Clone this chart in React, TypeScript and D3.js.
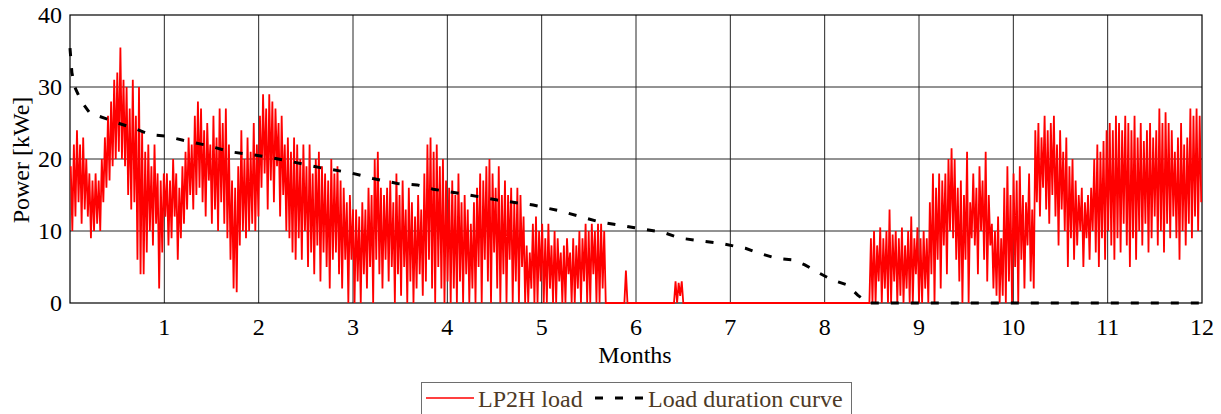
import { useEffect, useRef } from 'react';
import * as d3 from 'd3';

const monthTicks = [1, 2, 3, 4, 5, 6, 7, 8, 9, 10, 11, 12];
const powerTicks = [0, 10, 20, 30, 40];
const daysInYear = 365;

// daily maximum of the LP2H load [kWe], day 0..364
const dailyPeak = [
  // month 1
  19, 22, 24, 22, 23, 20, 18, 17, 18, 17, 20, 23, 26, 28, 31, 32, 35.5, 31, 30, 27, 31, 26, 30, 24, 21, 22, 19, 22, 18, 17, 18,
  // month 2
  18, 17, 20, 18, 16, 19, 21, 23, 22, 26, 28, 27, 24, 25, 22, 26, 23, 27, 25, 27, 22, 17, 16, 19, 24, 20, 23, 21, 25, 22,
  // month 3
  26, 29, 27, 29, 28, 27, 25, 26, 22, 23, 21, 23, 22, 20, 22, 19, 22, 18, 20, 21, 19, 18, 17, 20, 18, 19, 17, 16, 14, 15, 13,
  // month 4
  13, 12, 14, 13, 16, 15, 20, 21, 16, 15, 16, 17, 14, 18, 15, 17, 13, 16, 14, 12, 15, 13, 18, 22, 23, 21, 22, 19, 20, 17,
  // month 5
  16, 17, 15, 18, 14, 15, 13, 11, 14, 16, 18, 17, 19, 20, 18, 16, 19, 15, 17, 15, 16, 14, 16, 15, 12, 8, 7, 11, 12, 10, 11,
  // month 6
  9, 11, 8, 10, 9, 7, 8, 9, 7, 9, 8, 10, 9, 11, 10, 11, 10, 11, 11, 10,
  0, 0, 0, 0, 0, 0, 4.5, 0, 0, 0,
  // month 7
  0, 0, 0, 0, 0, 0, 0, 0, 0, 0, 0, 0, 3, 2.8, 3, 0, 0, 0, 0, 0,
  0, 0, 0, 0, 0, 0, 0, 0, 0, 0, 0, 0, 0, 0, 0, 0, 0, 0, 0, 0,
  // months 8-9
  0, 0, 0, 0, 0, 0, 0, 0, 0, 0, 0, 0, 0, 0, 0, 0, 0, 0, 0, 0,
  0, 0, 0, 0, 0, 0, 0, 0, 0, 0, 0, 0, 0, 0, 0,
  9, 10, 8, 10.5, 9, 10, 13, 9.5, 10, 9,
  10.5, 8, 10, 12, 9, 10.5, 9, 10, 9, 14,
  // month 10
  18, 16, 18, 17, 18, 20, 21.5, 20, 16, 17,
  15, 21, 14, 18, 16, 19, 17, 21, 15, 11,
  10, 12, 9, 16, 19, 15, 18, 17, 19, 15,
  // month 11
  14, 18, 13, 24, 25, 23, 26, 24, 25, 26,
  22, 24, 21, 23, 19, 20, 17, 15, 16, 14,
  15, 16, 20, 22, 21, 22.5, 24, 25, 24, 26,
  // month 12
  25, 24, 26, 25, 24, 26, 23, 25, 22.5, 24,
  25, 23, 24, 27, 25, 26.5, 25, 24, 21, 23,
  25, 22, 23, 27, 26, 27, 26,
];

// daily minimum of the LP2H load [kWe], day 0..364
const dailyLow = [
  // month 1
  10, 12, 14, 11, 13, 12, 9, 10, 11, 10, 14, 16, 17, 19, 20, 21, 20, 19, 15, 13, 14, 6, 4, 4, 7, 10, 8, 11, 2, 7, 12,
  // month 2
  8, 9, 12, 6, 9, 11, 13, 15, 13, 15, 16, 14, 12, 17, 11, 13, 10, 14, 11, 9, 6, 2, 1.5, 8, 10, 9, 10, 11, 10, 12,
  // month 3
  16, 18, 13, 17, 14, 19, 12, 15, 10, 9, 7, 6, 9, 6, 10, 5, 7, 4, 8, 3, 7, 5, 2, 6, 7, 4, 2, 6, 0, 6, 0,
  // month 4
  3, 0, 4, 2, 5, 0, 6, 4, 2, 6, 3, 5, 0, 4, 1, 5, 0, 3, 0, 2, 4, 1, 3, 6, 2, 0, 5, 2, 0, 3,
  // month 5
  0, 2, 0, 3, 0, 4, 0, 2, 0, 5, 0, 6, 3, 0, 7, 2, 0, 4, 0, 6, 0, 3, 0, 5, 0, 0, 2, 0, 0, 3, 0,
  // month 6
  0, 2, 0, 0, 3, 0, 0, 4, 0, 0, 2, 0, 3, 0, 0, 4, 0, 0, 2, 0,
  0, 0, 0, 0, 0, 0, 0, 0, 0, 0,
  // month 7
  0, 0, 0, 0, 0, 0, 0, 0, 0, 0, 0, 0, 0, 1, 0, 0, 0, 0, 0, 0,
  0, 0, 0, 0, 0, 0, 0, 0, 0, 0, 0, 0, 0, 0, 0, 0, 0, 0, 0, 0,
  // months 8-9
  0, 0, 0, 0, 0, 0, 0, 0, 0, 0, 0, 0, 0, 0, 0, 0, 0, 0, 0, 0,
  0, 0, 0, 0, 0, 0, 0, 0, 0, 0, 0, 0, 0, 0, 0,
  0, 0, 3, 0, 2, 0, 0, 3, 0, 1,
  0, 2, 0, 0, 4, 0, 0, 2, 0, 4,
  // month 10
  0, 6, 2, 8, 4, 10, 9, 6, 3, 0,
  6, 0, 9, 8, 4, 10, 6, 3, 8, 2,
  1, 0, 1, 0, 3, 0, 5, 0, 6, 2,
  // month 11
  8, 3, 2, 14, 12, 16, 13, 11, 15, 12,
  8, 13, 10, 5, 9, 6, 8, 10, 5, 9,
  6, 10, 7, 5, 9, 6, 10, 8, 6, 9,
  // month 12
  7, 11, 8, 5, 9, 6, 10, 8, 11, 7,
  9, 12, 8, 10, 7, 11, 9, 12, 9, 6,
  10, 8, 11, 9, 12, 10, 14,
];

// load duration curve (sorted load)
const durationMonths = [
  0, 0.02, 0.05, 0.12, 0.21, 0.38, 0.53, 0.69, 0.85, 1.01, 1.2, 1.45, 1.7, 2.09, 2.36, 2.65, 2.97, 3.21, 3.47,
  3.68, 3.85, 4.19, 4.53, 4.91, 5.19, 5.41, 5.6, 5.97, 6.29, 6.47, 6.89, 7.16, 7.31, 7.49, 7.66, 7.79, 7.95,
  8.08, 8.24, 8.35, 8.46, 12,
];
const durationPower = [
  35.4, 32, 30, 28, 26.4, 25.6, 24.9, 24.2, 23.4, 23.2, 22.6, 21.9, 21, 20.3, 19.6, 18.8, 18.1, 17.3, 16.6,
  16.4, 15.8, 15.1, 14.3, 13.6, 12.8, 12, 11.3, 10.5, 9.8, 9, 8.3, 7.6, 6.9, 6.2, 6, 5.3, 4.1,
  3.2, 2.5, 1.1, 0, 0,
];

const seriesNames = ['LP2H load', 'Load duration curve'];

export default function App() {
  const svgRef = useRef<SVGSVGElement>(null);

  useEffect(() => {
    if (!svgRef.current) return;
    const svg = d3.select(svgRef.current);
    svg.selectAll('*').remove();

    const W = 1221;
    const H = 414;
    const margin = { top: 15, right: 19, bottom: 111, left: 70 };
    const width = W - margin.left - margin.right;
    const height = H - margin.top - margin.bottom;
    const font = '"Liberation Serif", "Times New Roman", serif';

    const x = d3.scaleLinear().domain([0, 12]).range([0, width]);
    const y = d3.scaleLinear().domain([0, 40]).range([height, 0]);

    const g = svg.append('g').attr('transform', `translate(${margin.left},${margin.top})`);

    // grid
    g.selectAll('.vgrid')
      .data(monthTicks.slice(0, -1))
      .join('line')
      .attr('x1', d => x(d))
      .attr('x2', d => x(d))
      .attr('y1', 0)
      .attr('y2', height)
      .attr('stroke', '#262626')
      .attr('stroke-width', 1);
    g.selectAll('.hgrid')
      .data(powerTicks.slice(1, -1))
      .join('line')
      .attr('x1', 0)
      .attr('x2', width)
      .attr('y1', d => y(d))
      .attr('y2', d => y(d))
      .attr('stroke', '#262626')
      .attr('stroke-width', 1);

    g.append('rect')
      .attr('x', 0)
      .attr('y', 0)
      .attr('width', width)
      .attr('height', height)
      .attr('fill', 'none')
      .attr('stroke', '#000')
      .attr('stroke-width', 1.2);

    // red load: one high and one low per day
    const loadPoints: [number, number][] = [];
    dailyPeak.forEach((p, i) => {
      loadPoints.push([((i + 0.25) * 12) / daysInYear, p]);
      loadPoints.push([((i + 0.75) * 12) / daysInYear, dailyLow[i]]);
    });
    const line = d3.line<[number, number]>()
      .x(d => x(d[0]))
      .y(d => y(d[1]));

    g.append('path')
      .datum(loadPoints)
      .attr('fill', 'none')
      .attr('stroke', '#ff0000')
      .attr('stroke-width', 1.8)
      .attr('stroke-linejoin', 'miter')
      .attr('d', line);

    const durationPoints = durationMonths.map((m, i) => [m, durationPower[i]] as [number, number]);
    g.append('path')
      .datum(durationPoints)
      .attr('fill', 'none')
      .attr('stroke', '#000')
      .attr('stroke-width', 3)
      .attr('stroke-dasharray', '8,12')
      .attr('d', line);

    // tick labels
    g.selectAll('.ylab')
      .data(powerTicks)
      .join('text')
      .attr('x', -8)
      .attr('y', d => y(d) + 8)
      .attr('text-anchor', 'end')
      .attr('font-family', font)
      .attr('font-size', 24)
      .attr('fill', '#000')
      .text(d => d);
    g.selectAll('.xlab')
      .data(monthTicks)
      .join('text')
      .attr('x', d => x(d))
      .attr('y', height + 32)
      .attr('text-anchor', 'middle')
      .attr('font-family', font)
      .attr('font-size', 24)
      .attr('fill', '#000')
      .text(d => d);

    svg.append('text')
      .attr('x', 635)
      .attr('y', 363)
      .attr('text-anchor', 'middle')
      .attr('font-family', font)
      .attr('font-size', 24)
      .attr('fill', '#000')
      .text('Months');
    svg.append('text')
      .attr('transform', 'translate(29,160) rotate(-90)')
      .attr('text-anchor', 'middle')
      .attr('font-family', font)
      .attr('font-size', 24)
      .attr('fill', '#000')
      .text('Power [kWe]');

    // legend
    const lg = svg.append('g').attr('transform', 'translate(421,382)');
    lg.append('rect')
      .attr('x', 0.5)
      .attr('y', 0.5)
      .attr('width', 430)
      .attr('height', 40)
      .attr('fill', '#fff')
      .attr('stroke', '#6e6e6e')
      .attr('stroke-width', 1);
    lg.append('line')
      .attr('x1', 5).attr('x2', 53).attr('y1', 16).attr('y2', 16)
      .attr('stroke', '#ff0000').attr('stroke-width', 1.5);
    lg.append('line')
      .attr('x1', 174).attr('x2', 223).attr('y1', 16).attr('y2', 16)
      .attr('stroke', '#000').attr('stroke-width', 3).attr('stroke-dasharray', '8,12');
    lg.selectAll('.ltext')
      .data(seriesNames)
      .join('text')
      .attr('x', (_, i) => (i === 0 ? 57 : 227))
      .attr('y', 25)
      .attr('font-family', font)
      .attr('font-size', 24)
      .attr('fill', '#4d3a26')
      .text(d => d);
  }, []);

  return (
    <svg
      ref={svgRef}
      width={1221}
      height={414}
      style={{ position: 'absolute', left: 0, top: 0, background: '#fff' }}
    />
  );
}
